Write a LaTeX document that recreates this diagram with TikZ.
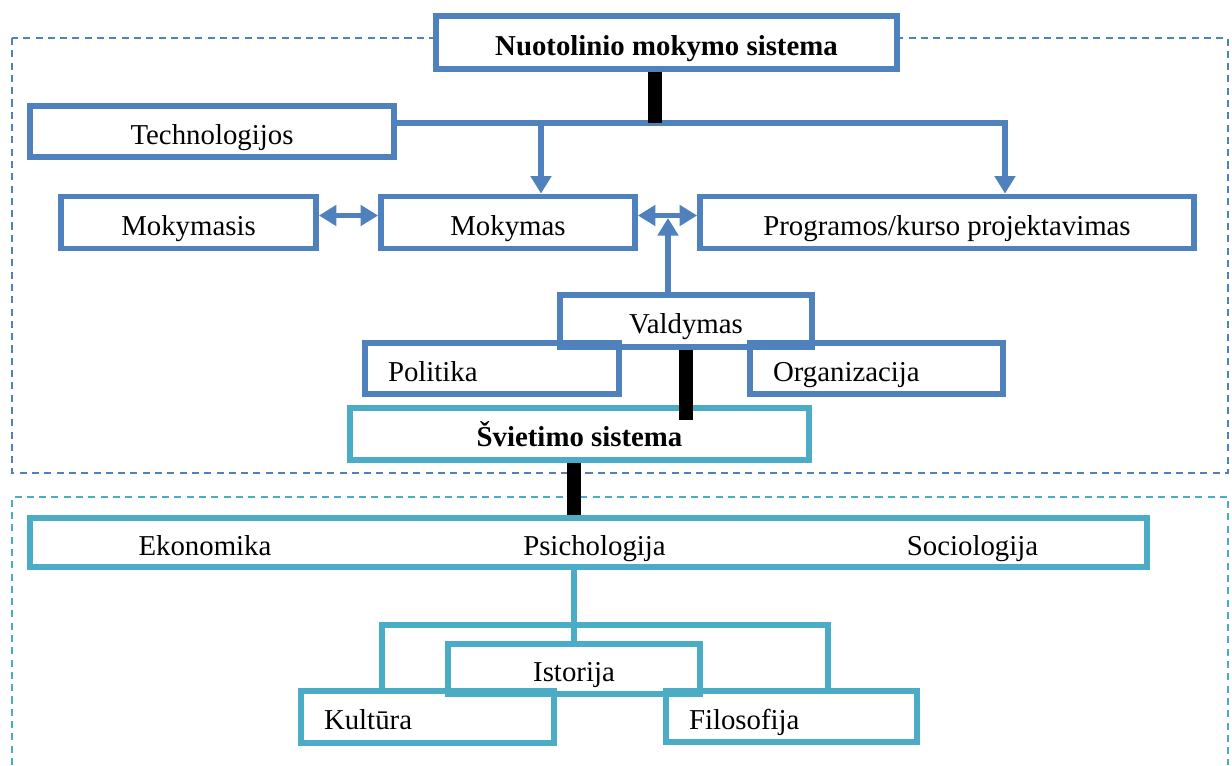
\documentclass[tikz,border=0pt]{standalone}
\usepackage{fontspec}
\setmainfont{Liberation Serif}
\usepackage{tikz}
\usetikzlibrary{arrows.meta,positioning}
\definecolor{nmsblue}{RGB}{79,129,189}
\definecolor{nmsteal}{RGB}{75,172,198}

\begin{document}
\begin{tikzpicture}[x=0.02cm,y=-0.02cm,font=\fontsize{16.4}{19}\selectfont,
    >={Triangle[width=11.5pt,length=10pt]},
    box/.style={draw=nmsblue,line width=3.3pt,inner sep=0pt,minimum height=1.04cm,
        text height=0.6cm,text depth=0.1cm},
    tbox/.style={box,draw=nmsteal},
    lbox/.style={align=left,inner xsep=0.46cm,text width=#1},
    lbl/.style={inner sep=0pt,text height=0.6cm,text depth=0.1cm},
    link/.style={draw=nmsblue,line width=3pt},
    tlink/.style={draw=nmsteal,line width=3pt},
    bar/.style={draw=black,line width=8.5pt},
    frame/.style={line width=1.1pt,dash pattern=on 4pt off 3pt}]
    \useasboundingbox (0,0) rectangle (1232,765);
    \draw[frame,nmsblue] (12,38) rectangle (1228,473);
    \draw[frame,nmsteal] (12,765) -- (12,497) -- (1228,497) -- (1228,765);

    \node[box,fill=white,minimum width=9.22cm,minimum height=1.06cm] (nuot) at (666.5,42.5) {\textbf{Nuotolinio mokymo sistema}};
    \node[box,minimum width=7.28cm,minimum height=1.02cm] (tech) at (212,131.5) {Technologijos};
    \node[box,minimum width=5.1cm] (mokymasis) at (188.5,222.5) {Mokymasis};
    \node[box,minimum width=5.08cm] (mokymas) at (508,222.5) {Mokymas};
    \node[box,minimum width=9.88cm] (prog) at (947,222.5) {Programos/kurso projektavimas};
    \node[box,minimum width=5.04cm] (valdymas) at (686,321) {Valdymas};
    \node[box,lbox=4.16cm,minimum height=1.02cm] (politika) at (492,368.5) {Politika};
    \node[box,lbox=4.14cm,minimum height=1.02cm] (organizacija) at (876.5,368.5) {Organizacija};
    \node[tbox,minimum width=9.18cm] (svietimo) at (579.5,434) {\textbf{Švietimo sistema}};
    \node[tbox,minimum width=22.34cm,minimum height=0.98cm] (sci) at (588.5,542.5) {};
    \node[lbl] (eko) at (205,542.5) {Ekonomika};
    \node[lbl] (psi) at (594.5,542.5) {Psichologija};
    \node[lbl] (soc) at (972.5,542.5) {Sociologija};
    \node[tbox,minimum width=5.04cm,minimum height=1cm] (istorija) at (574,669) {Istorija};
    \node[tbox,lbox=4.14cm] (kultura) at (427.5,717) {Kultūra};
    \node[tbox,lbox=4.1cm,minimum height=1.02cm] (filosofija) at (791.5,716.5) {Filosofija};

    \coordinate (bus) at (655,123);
    \coordinate (d1) at (541,123);
    \coordinate (d2) at (1005,123);
    \coordinate (up) at (668,218);
    \coordinate (kl) at (382,625);
    \coordinate (fr) at (828,625);

    \draw[link,->] (tech.east |- bus) -- (d2) -- (d2 |- prog.north);
    \draw[link,->] (d1) -- (d1 |- mokymas.north);
    \draw[link,<->] ([yshift=0.14cm]mokymasis.east) -- ([yshift=0.14cm]mokymas.west);
    \draw[link,<->] ([yshift=0.14cm]mokymas.east) -- ([yshift=0.14cm]prog.west);
    \draw[link,->] (valdymas.north -| up) -- (up);
    \draw[tlink] (istorija.north |- sci.south) -- (istorija.north);
    \draw[tlink] (kultura.north -| kl) -- (kl) -- (fr) -- (filosofija.north -| fr);

    \draw[bar] (nuot.south -| bus) -- (bus);
    \draw[bar] (valdymas.south) -- ++(0,70);
    \draw[bar] (istorija.north |- svietimo.south) -- (istorija.north |- sci.north);
\end{tikzpicture}
\end{document}
